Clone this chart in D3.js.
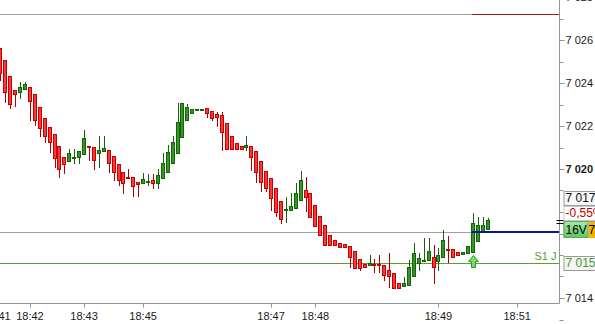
<!DOCTYPE html>
<html>
<head>
<meta charset="utf-8">
<script src="https://cdn.jsdelivr.net/npm/d3@7/dist/d3.min.js"></script>
<style>
  html, body { margin: 0; padding: 0; background: #fff; overflow: hidden; }
  svg { display: block; font-family: 'Liberation Sans', Arial, sans-serif; }
</style>
</head>
<body>
<div id="chart"></div>
<script>
// candles, one per slot
const opens = [7025.63, 7025.07, 7024.33, 7023.67, 7023.58, 7023.72, 7023.81, 7023.49, 7022.88, 7022.37,
  7021.95, 7021.63, 7021.07, 7020.56, 7020.37, 7020.53, 7020.56, 7020.70, 7021.07, 7021.02,
  7020.74, 7020.84, 7020.88, 7020.60, 7020.23, 7019.86, 7019.63, 7019.63, 7019.40, 7019.35,
  7019.42, 7019.49, 7019.35, 7019.58, 7019.86, 7020.28, 7020.74, 7021.49, 7022.28, 7022.60,
  7022.77, 7022.79, 7022.84, 7022.70, 7022.56, 7022.51, 7022.14, 7021.53, 7021.21, 7021.07,
  7021.02, 7021.07, 7020.84, 7020.37, 7019.91, 7019.58, 7019.12, 7018.51, 7018.12, 7018.09,
  7018.19, 7018.56, 7019.02, 7018.88, 7018.33, 7017.81, 7017.40, 7016.93, 7016.70, 7016.56,
  7016.51, 7016.42, 7016.19, 7015.81, 7015.58, 7015.53, 7015.58, 7015.58, 7015.53, 7015.30,
  7015.16, 7014.70, 7014.56, 7014.60, 7015.02, 7015.63, 7015.74, 7015.77, 7015.91, 7015.72,
  7015.91, 7016.28, 7016.28, 7016.14, 7016.05, 7016.09, 7016.14, 7016.65, 7017.07, 7017.21];
const highs = [7025.63, 7025.07, 7024.33, 7023.67, 7024.05, 7024.05, 7023.81, 7023.49, 7022.88, 7022.37,
  7021.95, 7021.63, 7021.07, 7020.56, 7020.93, 7020.93, 7020.84, 7021.81, 7021.07, 7021.02,
  7021.53, 7021.53, 7020.88, 7020.60, 7020.23, 7019.86, 7020.00, 7019.63, 7019.40, 7019.81,
  7019.77, 7019.77, 7020.00, 7020.74, 7021.12, 7021.53, 7023.07, 7023.07, 7023.02, 7022.79,
  7022.79, 7022.81, 7022.84, 7022.70, 7022.65, 7022.65, 7022.14, 7021.53, 7021.21, 7021.07,
  7021.53, 7021.07, 7020.84, 7020.37, 7019.91, 7019.58, 7019.12, 7018.51, 7018.70, 7018.88,
  7019.35, 7019.91, 7019.63, 7018.88, 7018.33, 7017.81, 7017.40, 7016.93, 7016.70, 7016.56,
  7016.51, 7016.42, 7016.19, 7015.81, 7015.58, 7016.00, 7015.81, 7016.00, 7015.53, 7016.09,
  7015.16, 7014.70, 7014.98, 7015.77, 7016.56, 7016.09, 7016.79, 7016.79, 7016.47, 7016.33,
  7017.16, 7016.88, 7016.28, 7016.14, 7016.14, 7016.42, 7017.95, 7017.77, 7017.77, 7017.72];
const lows = [7024.14, 7023.12, 7022.84, 7022.93, 7023.30, 7023.72, 7022.28, 7022.05, 7021.53, 7021.26,
  7020.79, 7020.09, 7019.63, 7019.81, 7020.37, 7020.28, 7020.28, 7020.70, 7020.42, 7020.00,
  7020.09, 7020.84, 7019.86, 7019.49, 7019.26, 7018.88, 7019.60, 7018.74, 7018.74, 7019.35,
  7019.26, 7019.12, 7019.12, 7019.58, 7019.86, 7020.28, 7020.74, 7021.49, 7022.28, 7022.60,
  7022.77, 7022.79, 7022.42, 7022.28, 7022.00, 7020.88, 7020.93, 7020.93, 7020.93, 7020.93,
  7020.88, 7019.95, 7019.40, 7018.98, 7018.98, 7018.09, 7017.81, 7017.49, 7017.53, 7018.09,
  7018.19, 7018.56, 7018.05, 7017.77, 7017.35, 7016.93, 7016.47, 7016.47, 7016.47, 7016.37,
  7016.37, 7015.44, 7015.40, 7015.30, 7015.44, 7015.53, 7015.21, 7015.21, 7014.84, 7014.51,
  7014.47, 7014.47, 7014.56, 7014.60, 7015.02, 7015.30, 7015.74, 7015.77, 7014.70, 7015.30,
  7015.91, 7015.67, 7015.91, 7016.00, 7016.05, 7016.09, 7016.14, 7016.65, 7017.07, 7017.21];
const closes = [7024.47, 7023.58, 7023.02, 7023.49, 7023.81, 7023.95, 7023.16, 7022.28, 7021.91, 7021.53,
  7021.26, 7020.51, 7020.00, 7020.23, 7020.74, 7020.56, 7020.84, 7021.44, 7021.02, 7020.42,
  7020.88, 7020.98, 7020.28, 7019.86, 7019.49, 7019.35, 7019.60, 7019.21, 7019.30, 7019.53,
  7019.44, 7019.35, 7019.72, 7020.28, 7020.79, 7021.26, 7022.19, 7023.07, 7022.88, 7022.79,
  7022.79, 7022.81, 7022.60, 7022.37, 7022.42, 7021.72, 7020.93, 7020.93, 7020.93, 7020.93,
  7021.12, 7020.56, 7019.86, 7019.40, 7019.12, 7018.65, 7018.00, 7017.67, 7018.14, 7018.28,
  7018.88, 7019.49, 7018.70, 7017.77, 7017.35, 7016.93, 7016.47, 7016.47, 7016.47, 7016.37,
  7016.37, 7015.91, 7015.40, 7015.40, 7015.44, 7015.63, 7015.56, 7015.56, 7015.07, 7015.02,
  7014.47, 7014.47, 7014.70, 7015.44, 7016.09, 7015.86, 7015.77, 7016.19, 7015.44, 7016.00,
  7016.70, 7016.23, 7015.91, 7016.00, 7016.14, 7016.42, 7017.49, 7017.40, 7017.40, 7017.63];

// time axis: label and the candle slot it sits on
const timeLabels = ['18:41', '18:42', '18:43', '18:45', '18:47', '18:48', '18:49', '18:51'];
const timeSlots = [-0.7, 6, 17, 29, 55, 64, 89, 105];

// price axis
const priceLabels = [7028, 7026, 7024, 7022, 7020, 7014];
const priceBold = [7020];
const priceTicks = [7013, 7014, 7015, 7016, 7017, 7018, 7019, 7020, 7021, 7022, 7023, 7024, 7025, 7026, 7027, 7028];

// horizontal levels
const levelNames = ['high', 'vol', 'S1 J'];
const levelValues = [7027.21, 7017.09, 7015.65];
const levelStart = 95.8;

// signal arrows (candle slot)
const signalSlots = [96];

// right side info boxes
const boxLastPrice = '7 017,';
const boxChange = '-0,55%';
const boxVol = '16V';
const boxVolPrice = '7,';
const boxS1 = '7 015,';

const config = {
  width: 595,
  height: 324,
  plotRight: 559.5,
  plotBottom: 303.5,
  slotCount: 113.6,
  font: 11,
  red: '#ff3636', redLine: '#c40000',
  green: '#2f9a1e', greenLine: '#17600e',
  axis: '#8a979f'
};

const candles = opens.map((o, i) => ({ i: i, o: o, h: highs[i], l: lows[i], c: closes[i] }));

const svg = d3.select('#chart')
  .append('svg')
  .attr('width', config.width)
  .attr('height', config.height);

const x = d3.scaleLinear()
  .domain([0, config.slotCount])
  .range([0.38, config.plotRight]);

const y = d3.scaleLinear()
  .domain([7014, 7026])
  .range([298, 40]);

const px = v => Math.round(v) + 0.5;

svg.append('defs').append('clipPath')
  .attr('id', 'plot')
  .append('rect')
  .attr('x', 0).attr('y', 0)
  .attr('width', config.plotRight).attr('height', config.plotBottom);

const defs = svg.select('defs');
const grad = defs.append('linearGradient')
  .attr('id', 'volgrad').attr('x1', 0).attr('y1', 0).attr('x2', 0).attr('y2', 1);
grad.append('stop').attr('offset', '0%').attr('stop-color', '#a6eca6');
grad.append('stop').attr('offset', '100%').attr('stop-color', '#5cc85c');

const plot = svg.append('g').attr('clip-path', 'url(#plot)');

// levels
const xs = x(levelStart);
plot.append('line')
  .attr('x1', 0).attr('x2', xs)
  .attr('y1', px(y(levelValues[0]))).attr('y2', px(y(levelValues[0])))
  .style('stroke', '#a0a0a0');
plot.append('line')
  .attr('x1', xs).attr('x2', config.plotRight)
  .attr('y1', px(y(levelValues[0]))).attr('y2', px(y(levelValues[0])))
  .style('stroke', '#a01818');
plot.append('line')
  .attr('x1', 0).attr('x2', xs)
  .attr('y1', px(y(levelValues[1]))).attr('y2', px(y(levelValues[1])))
  .style('stroke', '#a0a0a0');
plot.append('line')
  .attr('x1', 0).attr('x2', config.plotRight)
  .attr('y1', px(y(levelValues[2]))).attr('y2', px(y(levelValues[2])))
  .style('stroke', '#5c9e30');

// wicks
plot.selectAll('line.wick')
  .data(candles)
  .enter()
  .append('line')
  .attr('class', 'wick')
  .attr('x1', d => Math.round(x(d.i)) + 0.5)
  .attr('x2', d => Math.round(x(d.i)) + 0.5)
  .attr('y1', d => Math.round(y(d.h)))
  .attr('y2', d => Math.round(y(d.l)) + 1)
  .style('stroke', d => d.c >= d.o ? config.greenLine : '#b00000');

// bodies
plot.selectAll('rect.body')
  .data(candles)
  .enter()
  .append('rect')
  .attr('class', 'body')
  .attr('x', d => Math.round(x(d.i)) - 1.5)
  .attr('width', 3)
  .attr('y', d => Math.round(y(Math.max(d.o, d.c))) + 0.5)
  .attr('height', d => Math.max(1, Math.round(y(Math.min(d.o, d.c))) - Math.round(y(Math.max(d.o, d.c)))))
  .style('fill', d => d.c >= d.o ? config.green : config.red)
  .style('stroke', d => d.c >= d.o ? config.greenLine : config.redLine)
  .style('stroke-width', 1);

// blue volume level over the candles
plot.append('line')
  .attr('x1', xs).attr('x2', config.plotRight)
  .attr('y1', Math.round(y(levelValues[1])) ).attr('y2', Math.round(y(levelValues[1])))
  .style('stroke', '#0a1890')
  .style('stroke-width', 2);

// signal arrows
const arrow = d3.line()([[0, 0], [5, 6], [2, 6], [2, 12], [-2, 12], [-2, 6], [-5, 6]]) + 'Z';
plot.selectAll('path.signal')
  .data(signalSlots)
  .enter()
  .append('path')
  .attr('class', 'signal')
  .attr('d', arrow)
  .attr('transform', d => `translate(${Math.round(x(d)) + 0.5}, ${Math.round(y(lows[d])) + 3.5})`)
  .style('fill', '#74dc6a')
  .style('stroke', '#2c9a22');

// S1 label
plot.append('text')
  .attr('x', config.plotRight - 3)
  .attr('y', Math.round(y(levelValues[2])) - 3)
  .style('text-anchor', 'end')
  .style('font-size', config.font + 'px')
  .style('fill', '#5c9e30')
  .text(levelNames[2]);

// axes frame
svg.append('line')
  .attr('x1', config.plotRight).attr('x2', config.plotRight)
  .attr('y1', 0).attr('y2', config.plotBottom)
  .style('stroke', config.axis);
svg.append('line')
  .attr('x1', 0).attr('x2', config.plotRight)
  .attr('y1', config.plotBottom).attr('y2', config.plotBottom)
  .style('stroke', config.axis);

// price ticks
svg.selectAll('line.ptick')
  .data(priceTicks)
  .enter()
  .append('line')
  .attr('class', 'ptick')
  .attr('x1', config.plotRight)
  .attr('x2', d => config.plotRight + (priceLabels.includes(d) ? 5 : 4))
  .attr('y1', d => px(y(d)))
  .attr('y2', d => px(y(d)))
  .style('stroke', config.axis);

svg.selectAll('text.plabel')
  .data(priceLabels)
  .enter()
  .append('text')
  .attr('class', 'plabel')
  .attr('x', config.plotRight + 6)
  .attr('y', d => Math.round(y(d)) + 4)
  .style('font-size', config.font + 'px')
  .style('font-weight', d => priceBold.includes(d) ? 'bold' : 'normal')
  .style('fill', '#1a1a1a')
  .text(d => d3.format(',')(d).replace(',', ' '));

// time ticks
svg.selectAll('line.ttick')
  .data(timeSlots)
  .enter()
  .append('line')
  .attr('class', 'ttick')
  .attr('x1', d => px(x(d)))
  .attr('x2', d => px(x(d)))
  .attr('y1', config.plotBottom)
  .attr('y2', config.plotBottom + 4)
  .style('stroke', config.axis);

svg.selectAll('text.tlabel')
  .data(timeLabels)
  .enter()
  .append('text')
  .attr('class', 'tlabel')
  .attr('x', (d, i) => x(timeSlots[i]))
  .attr('y', config.plotBottom + 16)
  .style('text-anchor', 'middle')
  .style('font-size', config.font + 'px')
  .style('fill', '#1a1a1a')
  .text(d => d);

// right side boxes, stacked on the volume level
const bx = config.plotRight + 4;
const volY = Math.round(y(levelValues[1]));
function box(top, h, w, fill, stroke) {
  svg.append('rect')
    .attr('x', bx + 0.5).attr('y', top + 0.5)
    .attr('width', w).attr('height', h)
    .style('fill', fill)
    .style('stroke', stroke);
}
function label(tx, ty, txt, color) {
  svg.append('text')
    .attr('x', tx).attr('y', ty)
    .style('font-size', '12px')
    .style('fill', color)
    .text(txt);
}

box(volY - 11, 16, 40, '#f6f6f6', '#9a9a9a');
label(bx + 3, volY - 20, '', '#000');

box(volY - 41, 14, 40, '#f8f8f8', '#9a9a9a');
label(bx + 2, volY - 30, boxLastPrice, '#111');

box(volY - 26, 14, 40, '#ffffff', '#c8c8c8');
label(bx + 2, volY - 15, boxChange, '#c00000');

svg.append('rect')
  .attr('x', bx + 0.5).attr('y', volY - 10.5)
  .attr('width', 24).attr('height', 16)
  .style('fill', 'url(#volgrad)')
  .style('stroke', '#5aa85a');
svg.append('rect')
  .attr('x', bx + 25).attr('y', volY - 10)
  .attr('width', 20).attr('height', 16)
  .style('fill', '#f2b300');
label(bx + 2, volY + 2, boxVol, '#000');
label(bx + 25, volY + 2, boxVolPrice, '#000');

// price markers on the axis
[volY - 12, volY - 9].forEach(v => {
  svg.append('line')
    .attr('x1', config.plotRight - 3).attr('x2', config.plotRight + 4)
    .attr('y1', v + 0.5).attr('y2', v + 0.5)
    .style('stroke', '#000');
});

const s1Y = Math.round(y(levelValues[2]));
box(s1Y - 7, 14, 40, '#f4f4f4', '#9a9a9a');
label(bx + 2, s1Y + 4, boxS1, '#4a9a2a');
</script>
</body>
</html>
